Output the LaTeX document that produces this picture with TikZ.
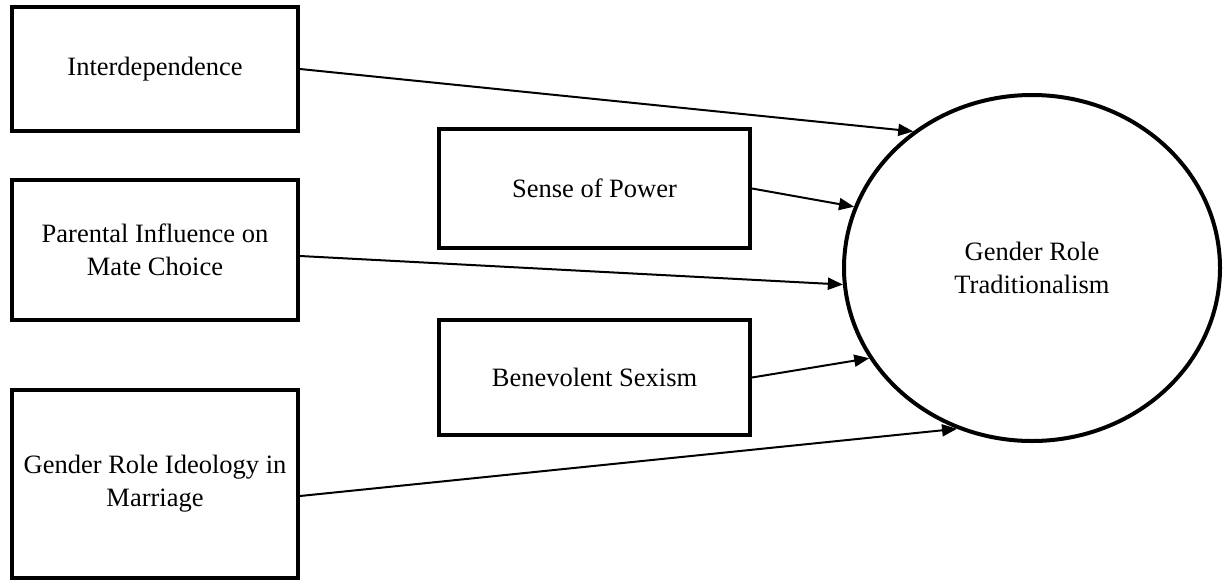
\documentclass[tikz,border=0pt]{standalone}
\usepackage{fontspec}
\setmainfont{Liberation Serif}
\usepackage{tikz}
\usetikzlibrary{calc,arrows.meta}
\usetikzlibrary{shapes.geometric}
\tikzset{
    varbox/.style={draw, line width=4pt, rectangle, align=center, minimum width=286pt},
    outcome/.style={draw, line width=4pt, ellipse, align=center, minimum width=376pt, minimum height=346pt},
    effect/.style={line width=2pt, -{Triangle[length=15pt, width=12pt]}}
}

\begin{document}
\begin{tikzpicture}[x=1pt, y=-1pt, font=\fontsize{26.5}{33}\selectfont]
    \useasboundingbox (0,0) rectangle (1230,586);
    % predictors
    \node[varbox, minimum height=124pt] (interdep) at (155,69) {Interdependence};
    \node[varbox, minimum height=140pt] (parental) at (155,250) {Parental Influence on\\Mate Choice};
    \node[varbox, minimum height=188pt] (ideology) at (155,484) {Gender Role Ideology in\\Marriage};
    \node[varbox, minimum width=311pt, minimum height=119pt] (power) at (594.5,188.5) {Sense of Power};
    \node[varbox, minimum width=311pt, minimum height=115pt] (sexism) at (594.5,377.5) {Benevolent Sexism};
    % outcome
    \node[outcome] (trad) at (1032,268) {Gender Role\\Traditionalism};
    % paths
    \draw[effect] (interdep.east) -- (trad.131);
    \draw[effect] (power.east) -- (trad.161);
    \draw[effect] ($(parental.east)+(0,6)$) -- (trad.185);
    \draw[effect] (sexism.east) -- (trad.209);
    \draw[effect] ($(ideology.east)+(0,12)$) -- (trad.245);
\end{tikzpicture}
\end{document}
